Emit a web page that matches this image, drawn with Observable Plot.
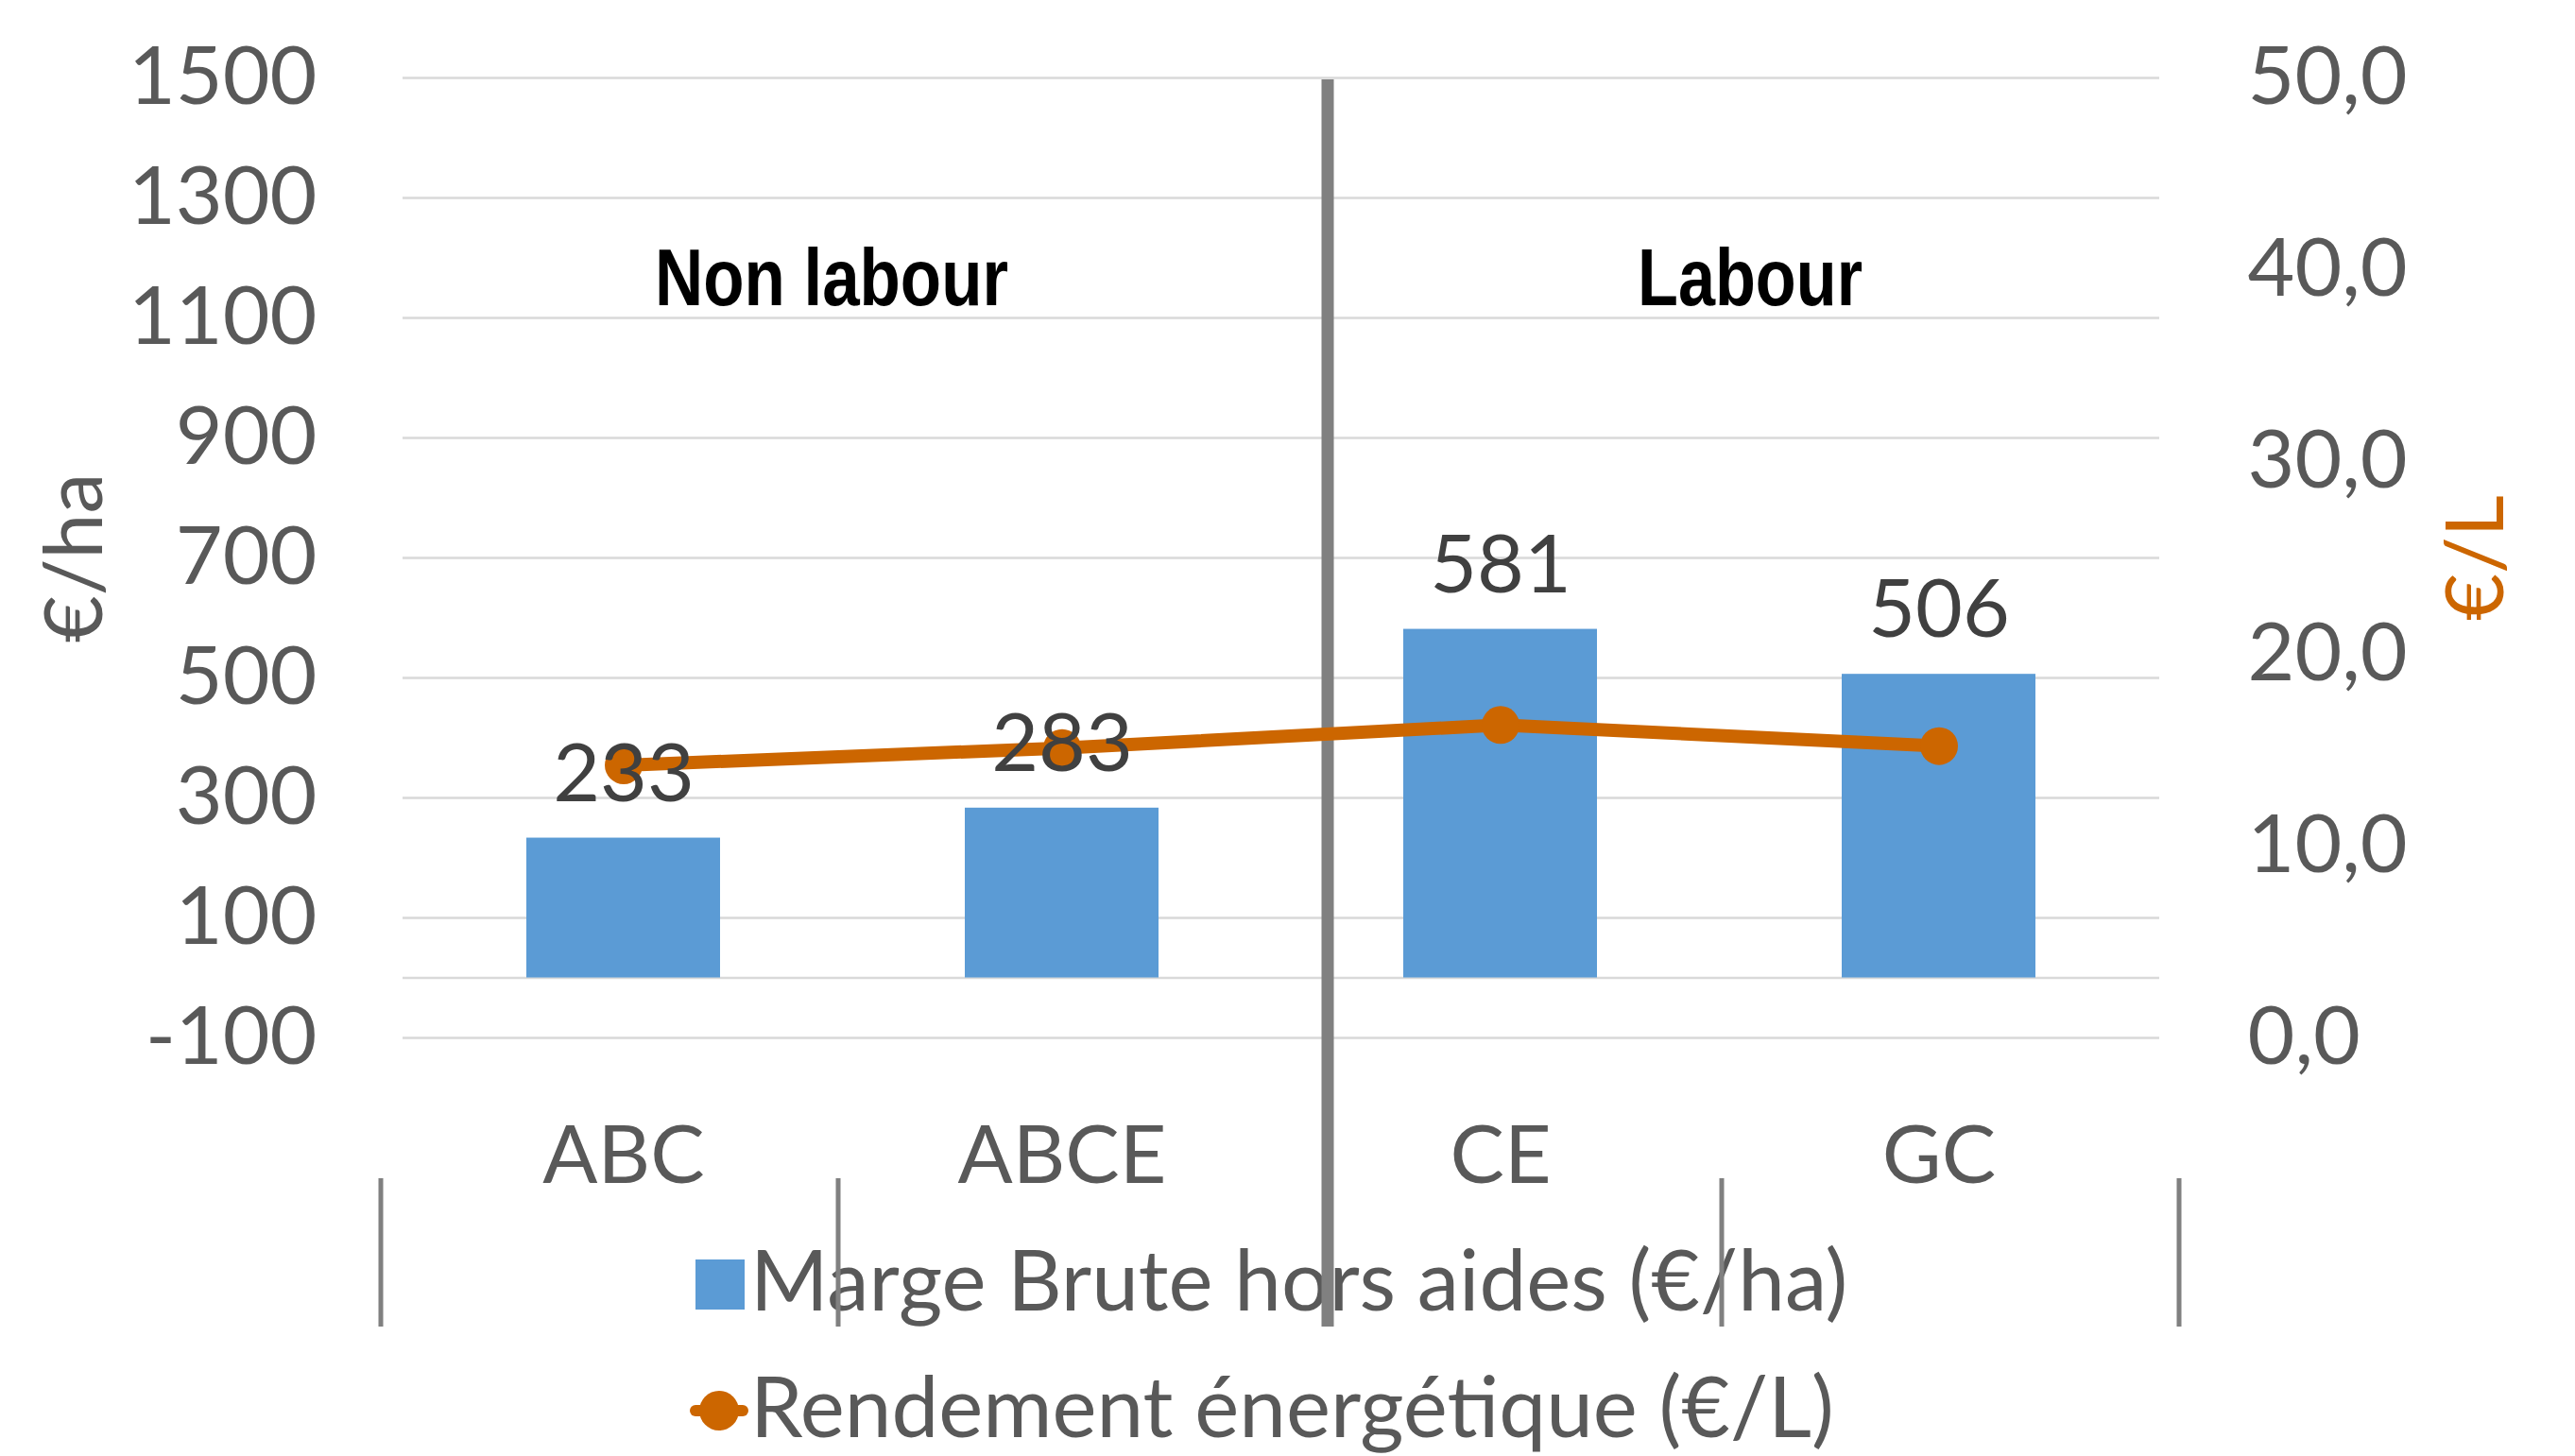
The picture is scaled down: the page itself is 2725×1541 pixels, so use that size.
<!DOCTYPE html>
<html>
<head>
<meta charset="utf-8">
<script src="https://cdn.jsdelivr.net/npm/d3@7"></script>
<script src="https://cdn.jsdelivr.net/npm/@observablehq/plot@0.6"></script>
<style>
  html, body { margin: 0; padding: 0; background: #ffffff; }
  #wrap { position: relative; width: 2725px; height: 1541px; font-family: Lato, sans-serif; }
  #legend { position: absolute; left: 0; top: 0; width: 2725px; height: 1541px; z-index: 0; }
  #chart { position: absolute; left: 0; top: 0; z-index: 1; }
  .leg-text { position: absolute; white-space: nowrap; font-size: 89px; line-height: 100px; color: #595959; }
  .leg-key { position: absolute; }
</style>
</head>
<body>
<div id="wrap">
  <div id="legend"></div>
  <div id="chart"></div>
</div>
<script>
// ---- data ----
const categories = ["ABC", "ABCE", "CE", "GC"];
const margeBrute = [233, 283, 581, 506];          // €/ha (left axis, bars)
const rendement = [14.2, 15.1, 16.3, 15.2];        // €/L (right axis, line)
const leftTicks = [-100, 100, 300, 500, 700, 900, 1100, 1300, 1500];
const rightTicks = [0, 10, 20, 30, 40, 50];
const leftDomain = [-100, 1500];
const rightDomain = [0, 50];
const seriesNames = ["Marge Brute hors aides (€/ha)", "Rendement énergétique (€/L)"];
const sectionLabels = ["Non labour", "Labour"];
const sectionAnchors = ["ABC", "CE"];
const axisTitles = ["€/ha", "€/L"];

// ---- styles ----
const blue = "#5B9BD5";
const orange = "#CC6600";
const grey = "#595959";
const sectionTextLengths = [374, 238];   // condensed bold look of the section headers

const rows = categories.map((c, i) => ({cat: c, marge: margeBrute[i], rend: rendement[i]}));
// right axis (0–50 €/L) shares the plot height with the left axis (-100–1500 €/ha)
const toLeft = d3.scaleLinear(rightDomain, leftDomain);
const fmtRight = v => toLeft.invert(v).toFixed(1).replace(".", ",");

const lineStyle = {stroke: "#808080", strokeOpacity: 1};
const sectionStyle = {text: d => d, frameAnchor: "top", lineAnchor: "middle", textAnchor: "middle", dy: 213,
  fontSize: 86, fontWeight: "bold", fontFamily: "'Liberation Sans Narrow', 'Liberation Sans', Arial, sans-serif", fill: "#000000"};

const chart = Plot.plot({
  width: 2725,
  height: 1541,
  marginTop: 82,
  marginBottom: 443,
  marginLeft: 426,
  marginRight: 440,
  style: {fontFamily: "Lato, sans-serif", background: "transparent"},
  x: {domain: categories, paddingInner: 0.559, paddingOuter: 0.2795, axis: null},
  y: {domain: leftDomain, axis: null},
  marks: [
    Plot.gridY(leftTicks, {stroke: "#d9d9d9", strokeOpacity: 1, strokeWidth: 2.5}),
    Plot.ruleY([0], {stroke: "#d9d9d9", strokeWidth: 2.5}),
    Plot.axisY(leftTicks, {anchor: "left", tickSize: 0, tickPadding: 91, fontSize: 86, color: grey, tickFormat: d => String(d), label: null}),
    Plot.axisY(rightTicks.map(toLeft), {anchor: "right", tickSize: 0, tickPadding: 93, fontSize: 86, color: grey, tickFormat: fmtRight, label: null}),
    Plot.axisX({tickSize: 0, tickPadding: 92, fontSize: 86, color: grey, label: null}),
    // section separator and bracket lines
    Plot.ruleX([sectionAnchors[1]], {...lineStyle, dx: -183, strokeWidth: 13, insetTop: 2, insetBottom: -306}),
    Plot.ruleX([categories[0]], {...lineStyle, dx: -257, strokeWidth: 5, insetTop: 1165, insetBottom: -306}),
    Plot.ruleX([categories[0]], {...lineStyle, dx: 227, strokeWidth: 5, insetTop: 1165, insetBottom: -306}),
    Plot.ruleX([categories[2]], {...lineStyle, dx: 234, strokeWidth: 5, insetTop: 1165, insetBottom: -306}),
    Plot.ruleX([categories[3]], {...lineStyle, dx: 254, strokeWidth: 5, insetTop: 1165, insetBottom: -306}),
    Plot.barY(rows, {x: "cat", y: "marge", fill: blue}),
    Plot.line(rows, {x: "cat", y: d => toLeft(d.rend), stroke: orange, strokeWidth: 14}),
    Plot.dot(rows, {x: "cat", y: d => toLeft(d.rend), r: 20, fill: orange, stroke: "none"}),
    Plot.text(rows, {x: "cat", y: "marge", text: d => String(d.marge), dy: -67, fontSize: 86, fill: "#404040"}),
    Plot.text([sectionLabels[0]], {...sectionStyle, x: () => sectionAnchors[0], dx: 220}),
    Plot.text([sectionLabels[1]], {...sectionStyle, x: () => sectionAnchors[1], dx: 264}),
    Plot.text([axisTitles[0]], {text: d => d, frameAnchor: "left", textAnchor: "middle", lineAnchor: "middle", dx: -346, rotate: -90, fontSize: 86, fill: grey}),
    Plot.text([axisTitles[1]], {text: d => d, frameAnchor: "right", textAnchor: "middle", lineAnchor: "middle", dx: 336, rotate: -90, fontSize: 86, fill: orange})
  ]
});
document.getElementById("chart").appendChild(chart);

// condense the section headers (narrow bold face)
d3.select(chart).selectAll("text").each(function() {
  const i = sectionLabels.indexOf(this.textContent);
  if (i >= 0) {
    this.setAttribute("textLength", sectionTextLengths[i]);
    this.setAttribute("lengthAdjust", "spacingAndGlyphs");
  }
});

// ---- legend (HTML, drawn beneath the SVG) ----
const legend = document.getElementById("legend");
const keyBar = document.createElement("div");
keyBar.className = "leg-key";
Object.assign(keyBar.style, {left: "736px", top: "1333px", width: "52px", height: "53px", background: blue});
legend.appendChild(keyBar);

const keyLine = document.createElementNS("http://www.w3.org/2000/svg", "svg");
keyLine.setAttribute("class", "leg-key");
keyLine.setAttribute("width", "66");
keyLine.setAttribute("height", "46");
keyLine.style.left = "728px";
keyLine.style.top = "1470px";
keyLine.innerHTML = `<line x1="8" y1="23" x2="58" y2="23" stroke="${orange}" stroke-width="12" stroke-linecap="round"/>
  <circle cx="33" cy="23" r="21" fill="${orange}"/>`;
legend.appendChild(keyLine);

const legendTops = [1303, 1437];
seriesNames.forEach((name, i) => {
  const t = document.createElement("div");
  t.className = "leg-text";
  t.textContent = name;
  t.style.left = "794px";
  t.style.top = legendTops[i] + "px";
  legend.appendChild(t);
});
</script>
</body>
</html>
